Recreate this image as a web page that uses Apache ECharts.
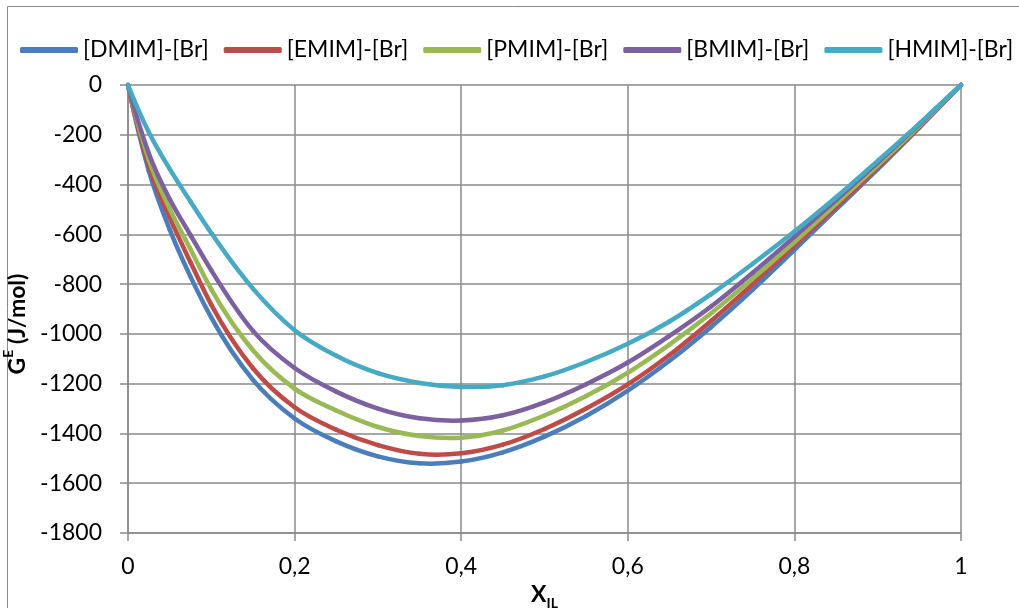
<!DOCTYPE html>
<html>
<head>
<meta charset="utf-8">
<script src="https://cdn.jsdelivr.net/npm/echarts@6/dist/echarts.min.js"></script>
<style>
html,body{margin:0;padding:0;background:#fff;}
#chart{width:1019px;height:608px;}
</style>
</head>
<body>
<div id="chart"></div>
<script>
// Mole fraction of ionic liquid
var xIL = [0, 0.025, 0.05, 0.075, 0.1, 0.15, 0.2, 0.25, 0.3, 0.35, 0.4, 0.45, 0.5, 0.55, 0.6, 0.65, 0.7, 0.75, 0.8, 0.85, 0.9, 0.95, 1];
// Excess Gibbs energy G^E (J/mol)
var gDMIM = [0, -345, -580, -770, -935, -1185, -1340, -1432, -1492, -1520, -1513, -1476, -1413, -1330, -1228, -1108, -972, -822, -662, -500, -338, -171, 0];
var gEMIM = [0, -325, -532, -712, -883, -1138, -1295, -1385, -1447, -1482, -1480, -1445, -1382, -1300, -1203, -1085, -948, -800, -645, -490, -332, -168, 0];
var gPMIM = [0, -300, -497, -660, -821, -1066, -1220, -1308, -1374, -1410, -1417, -1388, -1328, -1250, -1156, -1043, -917, -778, -631, -478, -323, -164, 0];
var gBMIM = [0, -275, -458, -603, -745, -988, -1137, -1232, -1300, -1339, -1348, -1327, -1275, -1202, -1115, -1008, -890, -754, -610, -462, -312, -158, 0];
var gHMIM = [0, -190, -337, -468, -595, -818, -985, -1088, -1158, -1197, -1213, -1206, -1171, -1113, -1040, -950, -840, -718, -589, -451, -305, -155, 0];

var seriesNames = ['[DMIM]-[Br]', '[EMIM]-[Br]', '[PMIM]-[Br]', '[BMIM]-[Br]', '[HMIM]-[Br]'];
var seriesValues = [gDMIM, gEMIM, gPMIM, gBMIM, gHMIM];
var colors = ['#4a7ebb', '#be4b48', '#98b954', '#7d60a0', '#46aac5'];

var FONT = 'Lato, "Open Sans", "Noto Sans", sans-serif';
var GRAY = '#8a8a8a';

function pairs(vals) {
  return xIL.map(function (x, i) { return [x, vals[i]]; });
}

// derivative estimate at point k (three-point, non-uniform spacing)
function tangent(vals, k) {
  var n = xIL.length;
  if (k === 0) {
    var h0 = xIL[1] - xIL[0], h1 = xIL[2] - xIL[1];
    var d0 = (vals[1] - vals[0]) / h0, d1 = (vals[2] - vals[1]) / h1;
    return ((2 * h0 + h1) * d0 - h0 * d1) / (h0 + h1);
  }
  if (k === n - 1) {
    var g0 = xIL[n - 1] - xIL[n - 2], g1 = xIL[n - 2] - xIL[n - 3];
    var e0 = (vals[n - 1] - vals[n - 2]) / g0, e1 = (vals[n - 2] - vals[n - 3]) / g1;
    return ((2 * g0 + g1) * e0 - g0 * e1) / (g0 + g1);
  }
  var a = xIL[k] - xIL[k - 1], b = xIL[k + 1] - xIL[k];
  var sa = (vals[k] - vals[k - 1]) / a, sb = (vals[k + 1] - vals[k]) / b;
  return (sa * b + sb * a) / (a + b);
}

function renderCurve(params, api) {
  var s = params.seriesIndex;
  var i = params.dataIndex;
  if (i === 0) return null;
  var vals = seriesValues[s];
  var h = xIL[i] - xIL[i - 1];
  var m0 = tangent(vals, i - 1), m1 = tangent(vals, i);
  var p0 = api.coord([xIL[i - 1], vals[i - 1]]);
  var c1 = api.coord([xIL[i - 1] + h / 3, vals[i - 1] + m0 * h / 3]);
  var c2 = api.coord([xIL[i] - h / 3, vals[i] - m1 * h / 3]);
  var p1 = api.coord([xIL[i], vals[i]]);
  return {
    type: 'bezierCurve',
    shape: {x1: p0[0], y1: p0[1], cpx1: c1[0], cpy1: c1[1], cpx2: c2[0], cpy2: c2[1], x2: p1[0], y2: p1[1]},
    style: {stroke: colors[s], lineWidth: 4.5, fill: 'none', lineCap: 'round'}
  };
}

var chart = echarts.init(document.getElementById('chart'), null, {renderer: 'canvas'});
chart.setOption({
  animation: false,
  backgroundColor: '#fff',
  textStyle: {fontFamily: FONT},
  graphic: [{
    type: 'rect',
    shape: {x: 7.5, y: 6.5, width: 1100, height: 700},
    style: {fill: 'none', stroke: GRAY, lineWidth: 1},
    silent: true
  }],
  legend: {
    left: 15,
    top: 32,
    itemWidth: 58,
    itemHeight: 6,
    itemGap: 15,
    icon: 'roundRect',
    textStyle: {fontFamily: FONT, fontSize: 23, color: '#000', lineHeight: 26},
    data: seriesNames
  },
  grid: {left: 128, right: 58, top: 85, bottom: 75, containLabel: false, outerBoundsMode: 'none'},
  xAxis: {
    type: 'value',
    min: 0, max: 1, interval: 0.2,
    name: '{x|X}{sub|IL}',
    nameLocation: 'middle',
    nameGap: 40,
    nameTextStyle: {
      rich: {
        x: {fontFamily: FONT, fontSize: 23, fontWeight: 'bold', color: '#000', lineHeight: 28, verticalAlign: 'top'},
        sub: {fontFamily: FONT, fontSize: 14, fontWeight: 'bold', color: '#000', verticalAlign: 'bottom', lineHeight: 28}
      }
    },
    axisLine: {show: true, onZero: false, lineStyle: {color: GRAY, width: 1.5}},
    axisTick: {show: true, length: 8, lineStyle: {color: GRAY, width: 1.5}},
    axisLabel: {
      margin: 22, fontSize: 23, color: '#000', fontFamily: FONT,
      formatter: function (v) { return String(Number(v.toFixed(1))).replace('.', ','); }
    },
    splitLine: {show: true, lineStyle: {color: GRAY, width: 1.5}}
  },
  yAxis: {
    type: 'value',
    min: -1800, max: 0, interval: 200,
    name: '{g|G}{sup|E}{g| (J/mol)}',
    nameLocation: 'middle',
    nameRotate: 90,
    nameGap: 86,
    nameTextStyle: {
      padding: [0, 30, 0, 0],
      rich: {
        g: {fontFamily: FONT, fontSize: 23, fontWeight: 'bold', color: '#000', lineHeight: 28, verticalAlign: 'bottom'},
        sup: {fontFamily: FONT, fontSize: 14, fontWeight: 'bold', color: '#000', lineHeight: 28, verticalAlign: 'top'}
      }
    },
    axisLine: {show: true, onZero: false, lineStyle: {color: GRAY, width: 1.5}},
    axisTick: {show: true, length: 8, lineStyle: {color: GRAY, width: 1.5}},
    axisLabel: {
      margin: 26, fontSize: 23, color: '#000', fontFamily: FONT,
      formatter: function (v) { return String(Math.round(v)); }
    },
    splitLine: {show: true, lineStyle: {color: GRAY, width: 1.5}}
  },
  series: seriesNames.map(function (name, i) {
    return {
      name: name,
      type: 'custom',
      renderItem: renderCurve,
      data: pairs(seriesValues[i]),
      encode: {x: 0, y: 1},
      clip: false,
      z: 2 + i,
      itemStyle: {color: colors[i]}
    };
  })
});
</script>
</body>
</html>
